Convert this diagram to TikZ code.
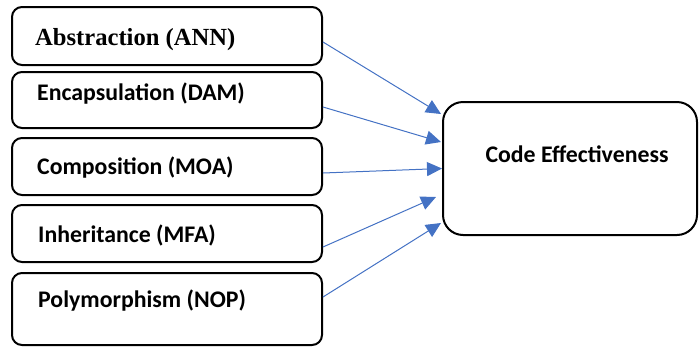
\documentclass[tikz,border=0pt]{standalone}
\usepackage{fontspec}
\newfontfamily\bodyfont{Carlito}
\newfontfamily\headfont{Liberation Serif}
\usetikzlibrary{arrows.meta,calc}
\definecolor{linkblue}{HTML}{4472C4}
\begin{document}
\begin{tikzpicture}[x=1pt, y=-1pt,
  factor/.style={draw, line width=2pt, rounded corners=10pt, minimum width=310pt, inner sep=0pt},
  txt/.style={anchor=west, inner sep=0pt, font=\bodyfont\bfseries\fontsize{23.8}{28}\selectfont},
  link/.style={draw=linkblue, line width=1pt, -{Triangle[length=15pt, width=14pt]}, linkblue}]
\useasboundingbox (0,0) rectangle (699,346);
\node[factor, minimum height=58pt] (abs) at (167,36) {};
\node[factor, minimum height=56pt] (enc) at (167,100) {};
\node[factor, minimum height=57pt] (com) at (167,166.5) {};
\node[factor, minimum height=57pt] (inh) at (167,233.5) {};
\node[factor, minimum height=72pt] (pol) at (167,309) {};
\node[txt, font=\headfont\bfseries\fontsize{24.6}{29}\selectfont] (absl) at (35,40) {Abstraction (ANN)};
\node[txt] (encl) at (37,94) {Encapsulation (DAM)};
\node[txt] (coml) at (37,168) {Composition (MOA)};
\node[txt] (inhl) at (38,235) {Inheritance (MFA)};
\node[txt] (poll) at (38,301) {Polymorphism (NOP)};
\node[factor, rounded corners=20pt, minimum width=254pt, minimum height=133pt] (ce) at (570,168.5) {};
\node[txt, anchor=center] (cel) at (577,154) {Code Effectiveness};
\draw[link] (abs.east) ++(0,6) -- ($(ce.west)+(-1,-54.5)$);
\draw[link] (enc.east) ++(0,7) -- ($(ce.west)+(-1,-26.5)$);
\draw[link] (com.east) ++(0,6.5) -- ($(ce.west)+(0,0)$);
\draw[link] (inh.east) ++(0,13.5) -- ($(ce.west)+(-6,28.5)$);
\draw[link] (pol.east) ++(0,-12) -- ($(ce.west)+(-1,54.5)$);
\end{tikzpicture}
\end{document}
